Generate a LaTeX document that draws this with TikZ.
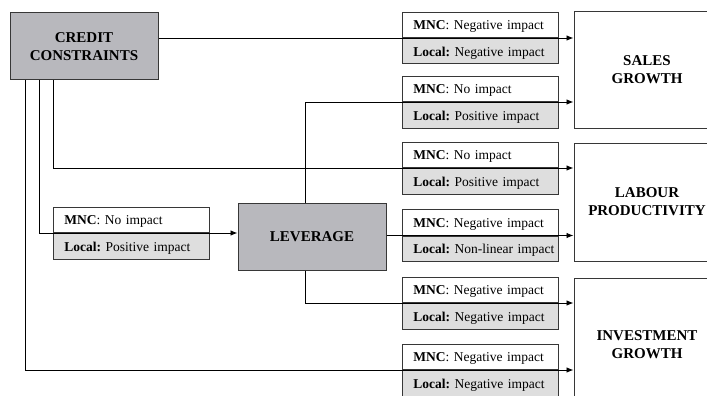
\documentclass[tikz,border=0pt]{standalone}
\usepackage{fontspec}
\setmainfont{Liberation Serif}
\usetikzlibrary{arrows.meta}
\frenchspacing
\definecolor{boxgray}{RGB}{184,184,189}
\definecolor{rowgray}{RGB}{222,222,222}
\definecolor{edgecol}{RGB}{55,55,55}
\tikzset{
  row/.style={draw=edgecol, line width=0.9pt, minimum width=156pt, minimum height=25.5pt,
    inner xsep=0pt, inner ysep=0pt, text width=156pt, align=left,
    execute at begin node={\hspace*{11pt}},
    text height=10pt, text depth=0pt, font=\fontsize{13.5}{16}\selectfont},
  mncrow/.style={row, fill=white, anchor=south west},
  locrow/.style={row, fill=rowgray, anchor=north west},
  bigbox/.style={draw=edgecol, line width=1pt, fill=boxgray, align=center,
    minimum width=148pt, minimum height=67pt, inner sep=0pt,
    font=\fontsize{15}{18}\selectfont\bfseries},
  outbox/.style={draw=edgecol, line width=1pt, fill=white, align=center,
    minimum width=146pt, inner sep=0pt,
    font=\fontsize{15}{18}\selectfont\bfseries},
  arr/.style={-{Latex[length=7pt,width=5.5pt]}, line width=0.9pt, black}
}
\begin{document}
\begin{tikzpicture}[x=1pt,y=-1pt]
\useasboundingbox (0,0) rectangle (707,396);
% main boxes
\node[bigbox] (cc) at (84,46.5) {CREDIT\\CONSTRAINTS};
\node[bigbox] (lev) at (312,236.5) {LEVERAGE};
\node[outbox, minimum height=116pt] (sales) at (647,70) {SALES\\GROWTH};
\node[outbox, minimum height=118pt] (labour) at (647,202) {LABOUR\\PRODUCTIVITY};
\node[outbox, minimum height=134pt] (invest) at (647,345) {INVESTMENT\\GROWTH};
% impact pairs
\node[mncrow] (p1m) at (402,38) {\textbf{MNC}: Negative impact};
\node[locrow] (p1l) at (402,38) {\textbf{Local:} Negative impact};
\node[mncrow] (p2m) at (402,102) {\textbf{MNC}: No impact};
\node[locrow] (p2l) at (402,102) {\textbf{Local:} Positive impact};
\node[mncrow] (p3m) at (402,168) {\textbf{MNC}: No impact};
\node[locrow] (p3l) at (402,168) {\textbf{Local:} Positive impact};
\node[mncrow] (p4m) at (402,235.5) {\textbf{MNC}: Negative impact};
\node[locrow] (p4l) at (402,235.5) {\textbf{Local:} Non-linear impact};
\node[mncrow] (p5m) at (402,303) {\textbf{MNC}: Negative impact};
\node[locrow] (p5l) at (402,303) {\textbf{Local:} Negative impact};
\node[mncrow] (p6m) at (402,370) {\textbf{MNC}: Negative impact};
\node[locrow] (p6l) at (402,370) {\textbf{Local:} Negative impact};
\node[mncrow] (lm) at (53,233) {\textbf{MNC}: No impact};
\node[locrow] (ll) at (53,233) {\textbf{Local:} Positive impact};
% connectors
\draw[arr] (cc.east |- p1m.south) -- (sales.west |- p1m.south);
\draw[arr] ([xshift=-7pt]lev.north) |- (sales.west |- p2m.south);
\draw[arr] ([xshift=44pt]cc.south west) |- (labour.west |- p3m.south);
\draw[arr] (lev.east |- p4m.south) -- (labour.west |- p4m.south);
\draw[arr] ([xshift=-7pt]lev.south) |- (invest.west |- p5m.south);
\draw[arr] ([xshift=16pt]cc.south west) |- (invest.west |- p6m.south);
\draw[arr] ([xshift=30pt]cc.south west) |- (lev.west |- lm.south);
\end{tikzpicture}
\end{document}
